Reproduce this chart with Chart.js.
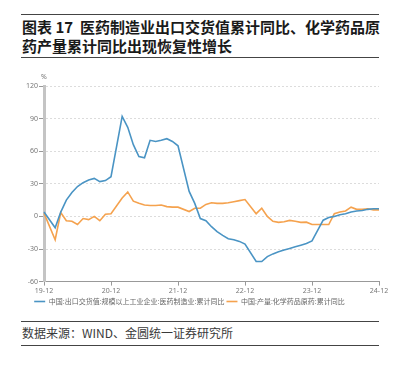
<!DOCTYPE html>
<html>
<head>
<meta charset="utf-8">
<script src="https://cdn.jsdelivr.net/npm/chart.js@4"></script>
<style>
  html, body { margin: 0; padding: 0; background: #fff; }
  body { width: 395px; height: 370px; position: relative; overflow: hidden; font-family: "Noto Sans CJK SC", "Noto Sans", sans-serif; }
  .rule { position: absolute; left: 21px; width: 358px; height: 0; border-top: 1px solid #444; }
  .title { position: absolute; left: 22px; top: 17px; font-size: 15px; font-weight: bold; line-height: 19px; color: #1a1a1a; white-space: nowrap; }
  .source { position: absolute; left: 22px; top: 324px; font-size: 12px; line-height: 18px; color: #3a3a3a; }
  #wrap { position: absolute; left: 0; top: 60px; width: 395px; height: 255px; }
</style>
</head>
<body>
<div class="rule" style="top:14px"></div>
<div class="title">图表 17&nbsp;&nbsp;医药制造业出口交货值累计同比、化学药品原<br>药产量累计同比出现恢复性增长</div>
<div class="rule" style="top:57px"></div>
<div id="wrap"><canvas id="chart"></canvas></div>
<div class="rule" style="top:321px"></div>
<div class="source">数据来源：WIND、金圆统一证券研究所</div>
<div class="rule" style="top:345px"></div>
<script>
  const months = [
    '19-12',
    '20-01', '20-02', '20-03', '20-04', '20-05', '20-06', '20-07', '20-08', '20-09', '20-10', '20-11', '20-12',
    '21-01', '21-02', '21-03', '21-04', '21-05', '21-06', '21-07', '21-08', '21-09', '21-10', '21-11', '21-12',
    '22-01', '22-02', '22-03', '22-04', '22-05', '22-06', '22-07', '22-08', '22-09', '22-10', '22-11', '22-12',
    '23-01', '23-02', '23-03', '23-04', '23-05', '23-06', '23-07', '23-08', '23-09', '23-10', '23-11', '23-12',
    '24-01', '24-02', '24-03', '24-04', '24-05', '24-06', '24-07', '24-08', '24-09', '24-10', '24-11', '24-12'
  ];

  // 中国:出口交货值:规模以上工业企业:医药制造业:累计同比 (no January prints)
  const exportYoY = [
    4,
    null, -10.5, 4, 15, 22, 27.5, 31, 33.5, 35, 32, 33, 36.5,
    null, 92, 82, 66, 55, 54, 70, 69, 70, 71.5, 69, 65,
    null, 23, 12, -2, -4, -9.5, -14, -17.5, -20.5, -21.5, -23, -25.5,
    null, -41.5, -41.5, -37, -34.5, -32.5, -31, -29.5, -28, -26.5, -25, -22.5,
    null, -3.5, -1, 0, 1.5, 2.5, 4, 5, 5.5, 6.5, 7, 7
  ];

  // 中国:产量:化学药品原药:累计同比
  const apiOutputYoY = [
    3,
    null, -21.5, 3.5, -4, -4.5, -7.5, -2, -3, 0, -4, 2, 2.5,
    null, 17, 22.5, 14, 12, 10.5, 10, 10, 10.5, 9, 8.5, 8.5,
    null, 4.5, 7.5, 7.5, 11, 12.5, 12, 12, 12.5, 13.5, 14.5, 15.5,
    null, 2.5, 7.5, 0, -4.5, -5.5, -5, -3.7, -4.5, -5.5, -5.3, -7.5,
    null, -7.5, -7.5, 2.5, 4, 5, 8.5, 6.5, 6.5, 7, 6, 6
  ];

  const seriesNames = [
    '中国:出口交货值:规模以上工业企业:医药制造业:累计同比',
    '中国:产量:化学药品原药:累计同比'
  ];

  const yTicks = [-60, -30, 0, 30, 60, 90, 120];

  const BLUE = '#4a94c4';
  const ORANGE = '#f5a24e';
  const TICK = '#777';

  // "%" unit above the y axis
  const unitLabel = {
    id: 'unitLabel',
    afterDraw(chart) {
      const { ctx, chartArea } = chart;
      ctx.save();
      ctx.fillStyle = TICK;
      ctx.font = '7px "Noto Sans", sans-serif';
      ctx.textAlign = 'center';
      ctx.textBaseline = 'middle';
      ctx.fillText('%', chartArea.left, chartArea.top - 9);
      ctx.restore();
    }
  };

  function lineSet(label, data, color) {
    return {
      label: label,
      data: data,
      borderColor: color,
      backgroundColor: color,
      borderWidth: 1.6,
      pointRadius: 0,
      pointStyle: 'line',
      tension: 0,
      spanGaps: true
    };
  }

  new Chart(document.getElementById('chart').getContext('2d'), {
    type: 'line',
    data: {
      labels: months,
      datasets: [
        lineSet(seriesNames[0], exportYoY, BLUE),
        lineSet(seriesNames[1], apiOutputYoY, ORANGE)
      ]
    },
    options: {
      responsive: true,
      maintainAspectRatio: false,
      animation: false,
      layout: { padding: { top: 26, right: 16, left: 0, bottom: 0 } },
      plugins: {
        tooltip: { enabled: false },
        legend: {
          position: 'bottom',
          labels: {
            color: '#666',
            font: { size: 7, family: '"Noto Sans CJK SC", sans-serif' },
            usePointStyle: true,
            pointStyleWidth: 11,
            boxHeight: 7,
            padding: 2
          }
        }
      },
      scales: {
        x: {
          ticks: {
            autoSkip: false,
            maxRotation: 0,
            padding: 1,
            color: TICK,
            font: { size: 7, family: '"Noto Sans", sans-serif' },
            callback: function (v, i) {
              const lab = months[i];
              return lab.endsWith('-12') ? lab : null;
            }
          },
          grid: { drawOnChartArea: false, tickLength: 4, color: '#999' },
          border: { color: '#999', width: 1 }
        },
        y: {
          min: -60,
          max: 120,
          afterBuildTicks: (scale) => { scale.ticks = yTicks.map(v => ({ value: v })); },
          afterFit: (scale) => { scale.width = 44; },
          ticks: {
            padding: 1,
            color: TICK,
            font: { size: 7, family: '"Noto Sans", sans-serif' }
          },
          grid: { color: '#dcdcdc', tickLength: 5, tickColor: '#999', tickBorderDash: [] },
          border: { color: '#c4c4c4', width: 3, dash: [2, 2] }
        }
      }
    },
    plugins: [unitLabel]
  });
</script>
</body>
</html>
